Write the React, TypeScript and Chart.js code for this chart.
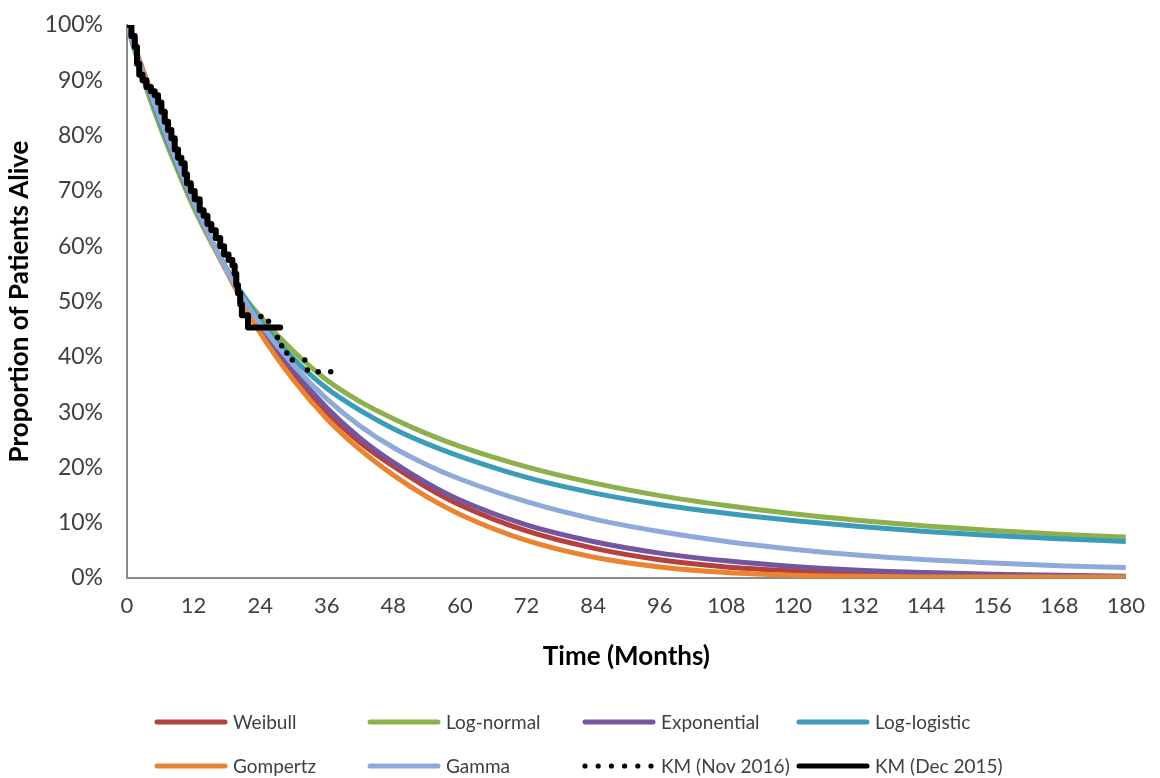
import React, { useEffect, useRef } from "react";
import { Chart, registerables } from "chart.js";

Chart.register(...registerables);

// ---- Data ----
const MONTHS = [0, 3, 6, 9, 12, 15, 18, 21, 24, 30, 36, 42, 48, 54, 60, 72, 84, 96, 108, 120, 132, 144, 156, 168, 180];

const WEIBULL = [100, 91.5, 83, 75, 68, 61.5, 55.5, 50.3, 45.5, 37, 30, 24.5, 20.2, 16.4, 13.2, 8.5, 5.4, 3.3, 2.0, 1.3, 0.8, 0.5, 0.3, 0.2, 0.1];
const LOGNORMAL = [100, 90, 81.5, 74, 67, 61, 55.5, 51, 47.3, 41, 35.8, 31.9, 28.8, 26.1, 23.8, 20.1, 17.2, 14.9, 13.1, 11.6, 10.4, 9.4, 8.6, 7.9, 7.4];
const EXPONENTIAL = [100, 90.8, 82.5, 74.8, 67.8, 61.5, 55.8, 50.6, 45.8, 37.6, 30.8, 25.3, 20.9, 17.2, 14.1, 9.6, 6.6, 4.5, 3.1, 2.1, 1.4, 1.0, 0.7, 0.5, 0.3];
const LOGLOGISTIC = [100, 91, 82.5, 75, 68, 61.5, 55.8, 51, 46.5, 39.7, 34.3, 30.3, 27.0, 24.3, 22.0, 18.2, 15.4, 13.3, 11.7, 10.4, 9.3, 8.4, 7.7, 7.1, 6.6];
const GOMPERTZ = [100, 91.5, 83.5, 75.5, 68.5, 61.5, 55.3, 49.6, 44.3, 35.8, 28.8, 23.2, 18.6, 14.7, 11.5, 6.8, 3.8, 2.0, 1.0, 0.5, 0.3, 0.2, 0.2, 0.2, 0.2];
const GAMMA = [100, 91, 83, 75.2, 68, 61.6, 55.6, 50.5, 46, 38.5, 32.4, 27.5, 23.6, 20.5, 17.9, 13.8, 10.7, 8.4, 6.6, 5.2, 4.1, 3.3, 2.7, 2.2, 1.9];

const KM_NOV_T = [0, 0.8, 1.4, 1.8, 2.2, 2.8, 3.5, 4.3, 5.0, 5.6, 6.2, 6.8, 7.4, 8.0, 8.6, 9.2, 9.8, 10.4, 10.8, 11.5, 12.2, 13.1, 13.8, 14.5, 15.2, 16.0, 16.8, 17.5, 18.3, 19.0, 19.4, 19.7, 20.0, 20.4, 20.7, 25.5, 26.8, 27.8, 28.8, 29.8, 32.5, 37.6];
const KM_NOV_S = [100, 98, 96, 93, 91, 90, 88.8, 88, 87.3, 86, 84.3, 82.5, 81, 79.5, 77.5, 76, 75, 73, 71.4, 70, 68.5, 66.5, 65.5, 64, 62.9, 61.5, 60, 58.5, 57.5, 56.5, 55, 53, 51.5, 49.5, 47.3, 45.3, 43.5, 42, 40.6, 39.4, 37.3, 37.3];

const KM_DEC_T = [0, 0.8, 1.4, 1.8, 2.2, 2.8, 3.5, 4.3, 5.0, 5.6, 6.2, 6.8, 7.4, 8.0, 8.6, 9.2, 9.8, 10.4, 10.8, 11.5, 12.2, 13.1, 13.8, 14.5, 15.2, 16.0, 16.8, 17.5, 18.3, 19.0, 19.4, 19.7, 20.0, 20.4, 20.7, 21.8, 27.6];
const KM_DEC_S = [100, 98, 96, 93, 91, 90, 88.8, 88, 87.3, 86, 84.3, 82.5, 81, 79.5, 77.5, 76, 75, 73, 71.4, 70, 68.5, 66.5, 65.5, 64, 62.9, 61.5, 60, 58.5, 57.5, 56.5, 55, 53, 51.5, 49.5, 47.5, 45.3, 45.3];

const SERIES_NAMES = ["Weibull", "Log-normal", "Exponential", "Log-logistic", "Gompertz", "Gamma", "KM (Nov 2016)", "KM (Dec 2015)"];
const SERIES_COLORS = ["#B5403D", "#8CB04B", "#7456A0", "#3A9CB8", "#EA8431", "#8FAADA", "#000000", "#000000"];

const X_TICK_STEP = 12;
const Y_TICK_STEP = 10;

const FONT = "Lato, 'Open Sans', sans-serif";
const TEXT_COLOR = "#404040";

function pts(xs: number[], ys: number[]) {
  return xs.map((x, i) => ({ x, y: ys[i] }));
}

const legendPlugin = {
  id: "bottomLegend",
  afterDraw(chart: any) {
    const ctx = chart.ctx as CanvasRenderingContext2D;
    const cols = [155, 368, 583, 797];
    const rows = [722, 766];
    ctx.save();
    chart.data.datasets.forEach((ds: any, i: number) => {
      const x = cols[i % 4];
      const y = rows[Math.floor(i / 4)];
      ctx.strokeStyle = ds.borderColor;
      ctx.lineWidth = 5;
      ctx.lineCap = "round";
      if (ds.borderDash && ds.borderDash.length) {
        ctx.fillStyle = ds.borderColor;
        for (let k = 0; k < 6; k++) {
          ctx.beginPath();
          ctx.arc(x + 2 + k * 13.2, y, 2.6, 0, Math.PI * 2);
          ctx.fill();
        }
      } else {
        ctx.setLineDash([]);
        ctx.beginPath();
        ctx.moveTo(x + 2, y);
        ctx.lineTo(x + 70, y);
        ctx.stroke();
      }
      ctx.fillStyle = TEXT_COLOR;
      ctx.font = `19px ${FONT}`;
      ctx.textBaseline = "middle";
      ctx.textAlign = "left";
      ctx.fillText(ds.label, x + 78, y + 1);
    });
    ctx.restore();
  },
};

export default function App() {
  const ref = useRef<HTMLCanvasElement | null>(null);

  useEffect(() => {
    if (!ref.current) return;
    const fits = [WEIBULL, LOGNORMAL, EXPONENTIAL, LOGLOGISTIC, GOMPERTZ, GAMMA];
    const datasets: any[] = fits.map((arr, i) => ({
      label: SERIES_NAMES[i],
      data: pts(MONTHS, arr),
      borderColor: SERIES_COLORS[i],
      backgroundColor: SERIES_COLORS[i],
      borderWidth: 5,
      pointRadius: 0,
      tension: 0.4,
      cubicInterpolationMode: "monotone",
      fill: false,
      order: 8 - i,
    }));
    datasets.push({
      label: SERIES_NAMES[6],
      data: pts(KM_NOV_T, KM_NOV_S),
      borderColor: SERIES_COLORS[6],
      backgroundColor: SERIES_COLORS[6],
      borderWidth: 5.5,
      borderDash: [0.01, 12.5],
      borderCapStyle: "round",
      pointRadius: 0,
      stepped: "before",
      fill: false,
      order: 2,
    });
    datasets.push({
      label: SERIES_NAMES[7],
      data: pts(KM_DEC_T, KM_DEC_S),
      borderColor: SERIES_COLORS[7],
      backgroundColor: SERIES_COLORS[7],
      borderWidth: 6,
      borderJoinStyle: "round",
      borderCapStyle: "round",
      pointRadius: 0,
      stepped: "before",
      fill: false,
      order: 1,
    });

    const chart = new Chart(ref.current, {
      type: "line",
      data: { datasets },
      plugins: [legendPlugin],
      options: {
        animation: false,
        responsive: false,
        layout: { padding: { left: 0, top: 25, right: 32, bottom: 100 } },
        plugins: { legend: { display: false }, tooltip: { enabled: false } },
        scales: {
          x: {
            type: "linear",
            min: 0,
            max: 180,
            ticks: {
              stepSize: X_TICK_STEP,
              color: TEXT_COLOR,
              font: { family: FONT, size: 22 },
              padding: 15,
              maxRotation: 0,
            },
            grid: { display: false, drawTicks: false },
            border: { display: true, color: "#8A8A8A", width: 2 },
            title: {
              display: true,
              text: "Time (Months)",
              color: "#000000",
              font: { family: FONT, size: 26, weight: "bold" },
              padding: { top: 0, bottom: 6 },
            },
            afterFit(scale: any) {
              scale.height = 100;
            },
          },
          y: {
            type: "linear",
            min: 0,
            max: 100,
            ticks: {
              stepSize: Y_TICK_STEP,
              color: TEXT_COLOR,
              font: { family: FONT, size: 23 },
              padding: 24,
              callback: (v: any) => `${v}%`,
            },
            grid: { display: false, drawTicks: false },
            border: { display: true, color: "#8A8A8A", width: 2 },
            title: {
              display: true,
              text: "Proportion of Patients Alive",
              color: "#000000",
              font: { family: FONT, size: 26, weight: "bold" },
              padding: { top: 4, bottom: 0 },
            },
            afterFit(scale: any) {
              scale.width = 127;
              scale.paddingTop = 0;
              scale.paddingBottom = 0;
            },
          },
        },
      },
    });
    return () => chart.destroy();
  }, []);

  return (
    <div style={{ position: "fixed", left: 0, top: 0, width: 1160, height: 778, background: "#ffffff" }}>
      <canvas ref={ref} width={1160} height={778} />
    </div>
  );
}
